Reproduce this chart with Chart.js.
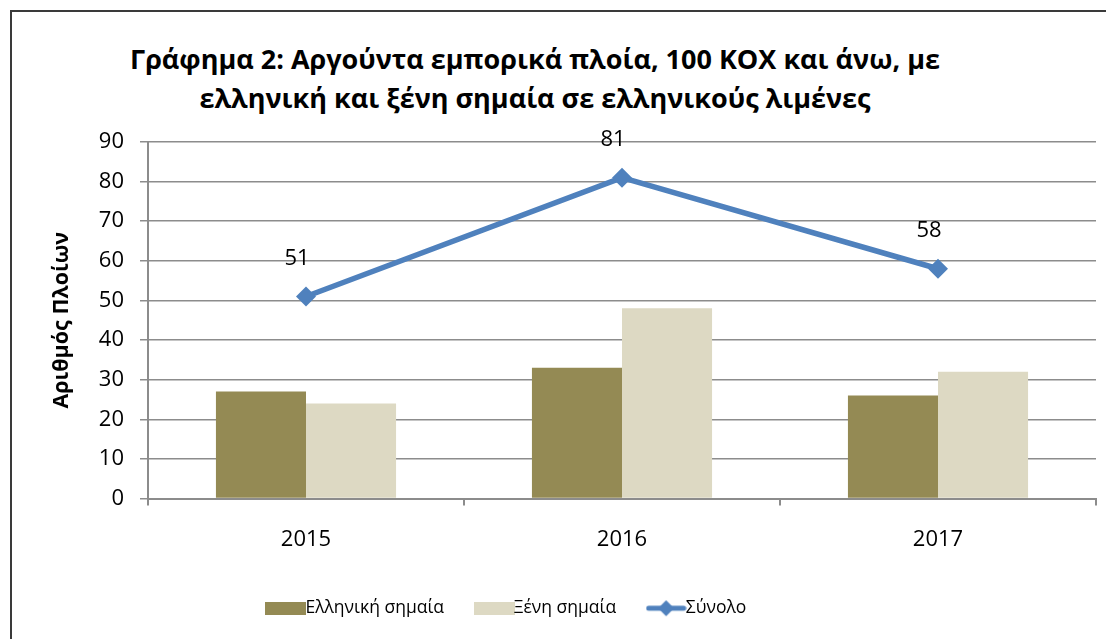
<!DOCTYPE html>
<html lang="el">
<head>
    <meta charset="UTF-8">
    <title>Γράφημα 2</title>
    <script src="https://cdn.jsdelivr.net/npm/chart.js"></script>
    <style>
        * {
            margin: 0;
            padding: 0;
            box-sizing: border-box;
        }

        body {
            width: 1106px;
            height: 639px;
            overflow: hidden;
            background: white;
            position: relative;
            font-family: "Open Sans", "Noto Sans", sans-serif;
        }

        .frame {
            position: absolute;
            left: 10px;
            top: 10px;
            width: 1200px;
            height: 700px;
            border: 2px solid #3a3a3a;
        }

        .title {
            position: absolute;
            left: 0;
            top: 39px;
            width: 1070px;
            text-align: center;
            font-size: 27px;
            font-weight: 700;
            line-height: 39px;
            color: #000;
        }

        .chart-box {
            position: absolute;
            left: 0;
            top: 0;
            width: 1106px;
            height: 643px;
        }
    </style>
</head>
<body>
    <div class="frame"></div>
    <div class="title">Γράφημα 2: Αργούντα εμπορικά πλοία, 100 ΚΟΧ και άνω, με<br>ελληνική και ξένη σημαία σε ελληνικούς λιμένες</div>
    <div class="chart-box">
        <canvas id="shipsChart"></canvas>
    </div>

    <script>
        const years = ['2015', '2016', '2017'];
        const greekFlag = [27, 33, 26];
        const foreignFlag = [24, 48, 32];
        const total = [51, 81, 58];
        const yTicks = [0, 10, 20, 30, 40, 50, 60, 70, 80, 90];

        const olive = '#948A54';
        const beige = '#DDD9C3';
        const blue = '#4F81BD';
        const gridGray = '#8C8C8C';
        const fontFamily = '"Open Sans", "Noto Sans", sans-serif';

        // legend icons
        function rectIcon(color) {
            const c = document.createElement('canvas');
            c.width = 41;
            c.height = 13;
            const g = c.getContext('2d');
            g.fillStyle = color;
            g.fillRect(0, 0, 41, 13);
            return c;
        }

        function lineIcon() {
            const c = document.createElement('canvas');
            c.width = 41;
            c.height = 20;
            const g = c.getContext('2d');
            g.strokeStyle = blue;
            g.lineWidth = 5;
            g.lineCap = 'round';
            g.beginPath();
            g.moveTo(3, 10);
            g.lineTo(38, 10);
            g.stroke();
            g.fillStyle = blue;
            g.beginPath();
            g.moveTo(20.5, 2);
            g.lineTo(28.5, 10);
            g.lineTo(20.5, 18);
            g.lineTo(12.5, 10);
            g.closePath();
            g.fill();
            return c;
        }

        const icons = [rectIcon(olive), rectIcon(beige), lineIcon()];

        const pointLabels = {
            id: 'pointLabels',
            afterDatasetsDraw(chart) {
                const ctx = chart.ctx;
                const meta = chart.getDatasetMeta(2);
                ctx.save();
                ctx.font = '22px ' + fontFamily;
                ctx.fillStyle = '#000';
                ctx.textAlign = 'center';
                ctx.textBaseline = 'middle';
                meta.data.forEach((pt, i) => {
                    ctx.fillText(String(total[i]), pt.x - 9, pt.y - 38);
                });
                ctx.restore();
            }
        };

        // the legend sits a bit left of centre in the original
        const legendShift = {
            id: 'legendShift',
            afterLayout(chart) {
                chart.legend.left -= 48;
                chart.legend.right -= 48;
            }
        };

        const ctx = document.getElementById('shipsChart').getContext('2d');
        new Chart(ctx, {
            type: 'bar',
            data: {
                labels: years,
                datasets: [{
                    label: 'Ελληνική σημαία',
                    data: greekFlag,
                    backgroundColor: olive,
                    barPercentage: 1,
                    categoryPercentage: 0.57,
                    order: 2
                }, {
                    label: 'Ξένη σημαία',
                    data: foreignFlag,
                    backgroundColor: beige,
                    barPercentage: 1,
                    categoryPercentage: 0.57,
                    order: 2
                }, {
                    type: 'line',
                    label: 'Σύνολο',
                    data: total,
                    borderColor: blue,
                    backgroundColor: blue,
                    borderWidth: 5.5,
                    pointStyle: 'rectRot',
                    pointRadius: 10,
                    pointBorderWidth: 0,
                    tension: 0,
                    order: 1
                }]
            },
            options: {
                responsive: true,
                maintainAspectRatio: false,
                animation: false,
                layout: {
                    padding: { left: 20, right: 9, top: 142, bottom: 16 }
                },
                scales: {
                    x: {
                        offset: true,
                        grid: {
                            offset: true,
                            drawOnChartArea: false,
                            drawTicks: true,
                            tickLength: 7,
                            color: gridGray,
                            lineWidth: 2
                        },
                        border: { color: gridGray, width: 2 },
                        ticks: {
                            padding: 21,
                            color: '#000',
                            font: { size: 22, family: fontFamily }
                        },
                        afterFit(scale) { scale.height = 62; }
                    },
                    y: {
                        min: 0,
                        max: 90,
                        afterBuildTicks(scale) {
                            scale.ticks = yTicks.map(v => ({ value: v }));
                        },
                        grid: {
                            color: gridGray,
                            lineWidth: 1.5,
                            tickLength: 8
                        },
                        border: { color: gridGray, width: 2 },
                        ticks: {
                            padding: 16,
                            color: '#000',
                            font: { size: 22, family: fontFamily }
                        },
                        title: {
                            display: true,
                            text: 'Αριθμός Πλοίων',
                            color: '#000',
                            padding: { top: 29, bottom: 0 },
                            font: { size: 21.5, weight: 'bold', family: fontFamily }
                        },
                        afterFit(scale) { scale.width = 128; }
                    }
                },
                plugins: {
                    tooltip: { enabled: false },
                    legend: {
                        position: 'bottom',
                        labels: {
                            usePointStyle: true,
                            pointStyleWidth: 22,
                            padding: 39,
                            color: '#000',
                            font: { size: 17.5, family: fontFamily },
                            sort: (a, b) => a.datasetIndex - b.datasetIndex,
                            generateLabels(chart) {
                                const items = Chart.defaults.plugins.legend.labels.generateLabels(chart);
                                items.forEach(item => { item.pointStyle = icons[item.datasetIndex]; });
                                return items;
                            }
                        }
                    }
                }
            },
            plugins: [pointLabels, legendShift]
        });
    </script>
</body>
</html>
